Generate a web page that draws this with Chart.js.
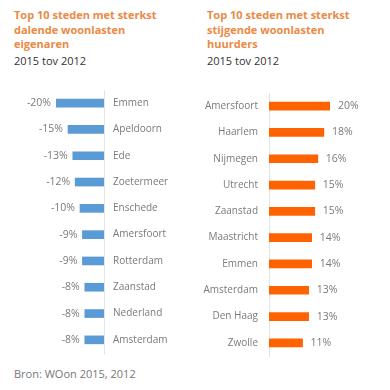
<!DOCTYPE html>
<html>
<head>
<meta charset="utf-8">
<script src="https://cdn.jsdelivr.net/npm/chart.js@4"></script>
<style>
    body { margin: 0; background: #fff; font-family: "Open Sans", "Noto Sans", sans-serif; }
    #wrap { position: relative; width: 390px; height: 390px; }
    .title { position: absolute; top: 8px; font-size: 11px; font-weight: bold; color: #ea8a45; line-height: 14.5px; }
    .sub { position: absolute; top: 53px; font-size: 11px; color: #333; }
    .bron { position: absolute; left: 14px; top: 366px; font-size: 11px; color: #777; }
    canvas { position: absolute; top: 80px; }
</style>
</head>
<body>
<div id="wrap">
    <div class="title" style="left:14px">Top 10 steden met sterkst<br>dalende woonlasten<br>eigenaren</div>
    <div class="sub" style="left:14px">2015 tov 2012</div>
    <div class="title" style="left:207px">Top 10 steden met sterkst<br>stijgende woonlasten<br>huurders</div>
    <div class="sub" style="left:207px">2015 tov 2012</div>
    <canvas id="leftChart" width="195" height="280" style="left:0"></canvas>
    <canvas id="rightChart" width="195" height="280" style="left:195px"></canvas>
    <div class="bron">Bron: WOon 2015, 2012</div>
</div>
<script>
// data
const eigenarenSteden = ['Emmen', 'Apeldoorn', 'Ede', 'Zoetermeer', 'Enschede', 'Amersfoort', 'Rotterdam', 'Zaanstad', 'Nederland', 'Amsterdam'];
const eigenarenWaarden = [-20, -15, -13, -12, -10, -9, -9, -8, -8, -8];
const huurdersSteden = ['Amersfoort', 'Haarlem', 'Nijmegen', 'Utrecht', 'Zaanstad', 'Maastricht', 'Emmen', 'Amsterdam', 'Den Haag', 'Zwolle'];
const huurdersWaarden = [20, 18, 16, 15, 15, 14, 14, 13, 13, 11];

const tickFont = { family: '"Open Sans", "Noto Sans", sans-serif', size: 10 };
const grey = '#7a7a7a';

// percentage next to the end of each bar
const valueLabels = {
    id: 'valueLabels',
    afterDatasetsDraw(chart) {
        const ctx = chart.ctx;
        const meta = chart.getDatasetMeta(0);
        ctx.save();
        ctx.font = '10.5px "Open Sans", "Noto Sans", sans-serif';
        ctx.fillStyle = grey;
        ctx.textBaseline = 'middle';
        meta.data.forEach((bar, i) => {
            const v = chart.data.datasets[0].data[i];
            if (v < 0) {
                ctx.textAlign = 'right';
                ctx.fillText(v + '%', bar.x - 5, bar.y);
            } else {
                ctx.textAlign = 'left';
                ctx.fillText(v + '%', bar.x + 8, bar.y);
            }
        });
        ctx.restore();
    }
};

function makeChart(id, labels, values, color, opts) {
    return new Chart(document.getElementById(id), {
        type: 'bar',
        data: {
            labels: labels,
            datasets: [{ data: values, backgroundColor: color, barThickness: 8 }]
        },
        options: {
            indexAxis: 'y',
            responsive: false,
            animation: false,
            layout: { padding: opts.padding },
            plugins: { legend: { display: false }, tooltip: { enabled: false } },
            scales: {
                x: { display: false, min: opts.min, max: opts.max },
                y: {
                    position: opts.side,
                    grid: { display: false, drawTicks: false },
                    border: { display: true, color: '#e3e3e3' },
                    ticks: { color: grey, font: tickFont, padding: opts.tickPad },
                    afterFit: (scale) => {
                        scale.width = opts.axisWidth;
                        scale.paddingTop = 0;
                        scale.paddingBottom = 0;
                    }
                }
            }
        },
        plugins: [valueLabels]
    });
}

makeChart('leftChart', eigenarenSteden, eigenarenWaarden, '#5b9bd5', {
    min: -20, max: 0, side: 'right', axisWidth: 91, tickPad: 9,
    padding: { left: 56, right: 0, top: 10, bottom: 7 }
});
makeChart('rightChart', huurdersSteden, huurdersWaarden, '#ff6200', {
    min: 0, max: 20, side: 'left', axisWidth: 74, tickPad: 11,
    padding: { left: 0, right: 60, top: 13, bottom: 4 }
});
</script>
</body>
</html>
